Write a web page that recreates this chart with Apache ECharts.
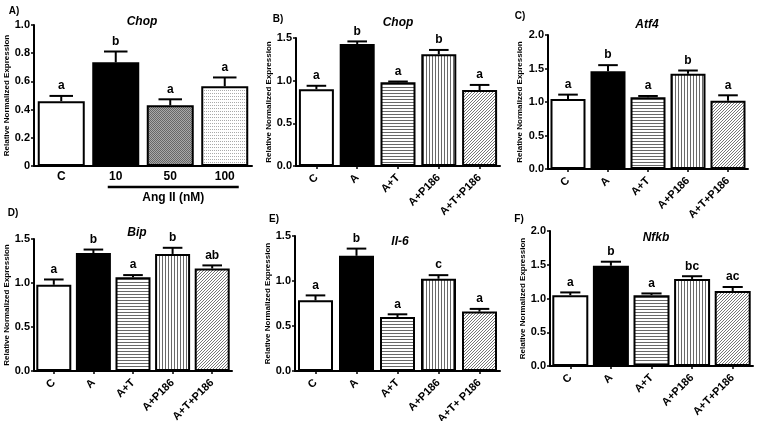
<!DOCTYPE html>
<html>
<head>
<meta charset="utf-8">
<script src="https://cdn.jsdelivr.net/npm/echarts@6/dist/echarts.min.js"></script>
<style>html,body{margin:0;padding:0;background:#fff}#c{width:757px;height:421px}</style>
</head>
<body>
<div id="c"></div>
<script>
// ---------- data ----------
const catsA = ['C', '10', '50', '100'];
const meanA = [0.46, 0.735, 0.43, 0.565];
const errA  = [0.497, 0.812, 0.473, 0.628];
const letA  = ['a', 'b', 'a', 'a'];

const cats5 = ['C', 'A', 'A+T', 'A+P186', 'A+T+P186'];
const catsE = ['C', 'A', 'A+T', 'A+P186', 'A+T+ P186'];

const meanB = [0.90, 1.43, 0.98, 1.31, 0.89];
const errB  = [0.94, 1.46, 0.99, 1.36, 0.95];
const letB  = ['a', 'b', 'a', 'b', 'a'];

const meanC = [1.045, 1.46, 1.07, 1.42, 1.02];
const errC  = [1.11, 1.55, 1.09, 1.47, 1.10];
const letC  = ['a', 'b', 'a', 'b', 'a'];

const meanD = [0.98, 1.34, 1.065, 1.33, 1.165];
const errD  = [1.04, 1.38, 1.09, 1.40, 1.20];
const letD  = ['a', 'b', 'a', 'b', 'ab'];

const meanE = [0.785, 1.28, 0.60, 1.025, 0.66];
const errE  = [0.84, 1.36, 0.63, 1.065, 0.69];
const letE  = ['a', 'b', 'a', 'c', 'a'];

const meanF = [1.05, 1.485, 1.05, 1.29, 1.11];
const errF  = [1.09, 1.545, 1.075, 1.33, 1.17];
const letF  = ['a', 'b', 'a', 'bc', 'ac'];

const titles = ['Chop', 'Chop', 'Atf4', 'Bip', 'Il-6', 'Nfkb'];
const panelTags = ['A)', 'B)', 'C)', 'D)', 'E)', 'F)'];
const yMax = [1.0, 1.5, 2.0, 1.5, 1.5, 2.0];
const yStep = [0.2, 0.5, 0.5, 0.5, 0.5, 0.5];
const yName = 'Relative Normalized Expression';
const angLabel = 'Ang II (nM)';

// ---------- patterns ----------
function pattern(kind) {
  const c = document.createElement('canvas');
  const ctx = c.getContext('2d');
  if (kind === 'h') {
    c.width = 3; c.height = 3;
    ctx.fillStyle = '#fff'; ctx.fillRect(0, 0, 3, 3);
    ctx.fillStyle = '#6a6a6a'; ctx.fillRect(0, 0, 3, 1);
  } else if (kind === 'v') {
    c.width = 3; c.height = 3;
    ctx.fillStyle = '#fff'; ctx.fillRect(0, 0, 3, 3);
    ctx.fillStyle = '#6a6a6a'; ctx.fillRect(0, 0, 1, 3);
  } else if (kind === 'd') {
    c.width = 3; c.height = 3;
    ctx.fillStyle = '#fff'; ctx.fillRect(0, 0, 3, 3);
    ctx.fillStyle = '#777';
    ctx.fillRect(0, 2, 1, 1); ctx.fillRect(1, 1, 1, 1); ctx.fillRect(2, 0, 1, 1);
  } else if (kind === 'dense') {
    c.width = 2; c.height = 2;
    ctx.fillStyle = '#a8a8a8'; ctx.fillRect(0, 0, 2, 2);
    ctx.fillStyle = '#666'; ctx.fillRect(0, 0, 1, 1); ctx.fillRect(1, 1, 1, 1);
  } else if (kind === 'dots') {
    c.width = 2; c.height = 3;
    ctx.fillStyle = '#fff'; ctx.fillRect(0, 0, 2, 3);
    ctx.fillStyle = '#aaa'; ctx.fillRect(0, 0, 1, 1);
  }
  return { image: c, repeat: 'repeat' };
}
const fillA = ['#fff', '#000', pattern('dense'), pattern('dots')];
const fill5 = ['#fff', '#000', pattern('h'), pattern('v'), pattern('d')];

// ---------- layout ----------
const FONT = 'Liberation Sans, Arial, Helvetica, sans-serif';
const grids = [
  { left: 34, width: 218, top: 25, height: 141 },
  { left: 296, width: 204, top: 38, height: 128 },
  { left: 548, width: 200, top: 35, height: 134 },
  { left: 34, width: 198, top: 239, height: 132 },
  { left: 295, width: 205, top: 236, height: 135 },
  { left: 550, width: 203, top: 231, height: 135 }
];
const titlePos = [[137, 17], [393, 18], [642, 20], [132, 228], [395, 237], [651, 233]];
const tagPos = [[9, 6], [273, 14], [515, 11], [8, 208], [269, 214], [514, 214]];
const nameGaps = [22, 20, 24, 22, 20, 20];
const barW = [47, 35, 35, 35, 35, 36];

const panels = [
  { cats: catsA, mean: meanA, err: errA, let: letA, fill: fillA },
  { cats: cats5, mean: meanB, err: errB, let: letB, fill: fill5 },
  { cats: cats5, mean: meanC, err: errC, let: letC, fill: fill5 },
  { cats: cats5, mean: meanD, err: errD, let: letD, fill: fill5 },
  { cats: catsE, mean: meanE, err: errE, let: letE, fill: fill5 },
  { cats: cats5, mean: meanF, err: errF, let: letF, fill: fill5 }
];

const option = {
  backgroundColor: '#fff',
  animation: false,
  title: [],
  grid: [],
  xAxis: [],
  yAxis: [],
  series: []
};

panels.forEach((p, i) => {
  option.grid.push(Object.assign({ containLabel: false, outerBoundsMode: 'none' }, grids[i]));
  option.title.push({
    text: titles[i], left: titlePos[i][0], top: titlePos[i][1],
    textAlign: 'center', textVerticalAlign: 'middle',
    textStyle: { fontFamily: FONT, fontSize: 12, fontWeight: 'bold', fontStyle: 'italic', color: '#000' }
  });
  option.title.push({
    text: panelTags[i], left: tagPos[i][0], top: tagPos[i][1],
    textAlign: 'center', textVerticalAlign: 'middle',
    textStyle: { fontFamily: FONT, fontSize: 10, fontWeight: 'bold', color: '#000' }
  });
  const isA = i === 0;
  option.xAxis.push({
    type: 'category', gridIndex: i, data: p.cats,
    axisLine: { lineStyle: { color: '#000', width: 2 } },
    axisTick: { show: !isA, alignWithLabel: true, length: 3, lineStyle: { color: '#000', width: 1.5 } },
    axisLabel: {
      rotate: isA ? 0 : 45, margin: isA ? 5 : 10, interval: 0,
      fontFamily: FONT, fontSize: isA ? 12 : 11, fontWeight: 'bold', color: '#000'
    },
    splitLine: { show: false }
  });
  option.yAxis.push({
    type: 'value', gridIndex: i, min: 0, max: yMax[i], interval: yStep[i],
    name: yName, nameLocation: 'middle', nameRotate: 90, nameGap: nameGaps[i],
    nameTextStyle: { fontFamily: FONT, fontSize: 8, fontWeight: 'bold', color: '#000' },
    axisLine: { show: true, lineStyle: { color: '#000', width: 2 } },
    axisTick: { show: true, length: 3, lineStyle: { color: '#000', width: 1.5 } },
    axisLabel: {
      margin: 4, fontFamily: FONT, fontSize: 11, fontWeight: 'bold', color: '#000',
      formatter: v => (isA && v === 0) ? '0' : v.toFixed(1)
    },
    splitLine: { show: false }
  });
  option.series.push({
    type: 'bar', xAxisIndex: i, yAxisIndex: i, barWidth: barW[i],
    data: p.mean.map((v, k) => ({
      value: v,
      itemStyle: { color: p.fill[k], borderColor: '#000', borderWidth: 2 }
    })),
    z: 2
  });
  const capW = barW[i] * (isA ? 0.5 : 0.56);
  const letters = p.let;
  option.series.push({
    type: 'custom', xAxisIndex: i, yAxisIndex: i, z: 3,
    data: p.mean.map((v, k) => [k, v, p.err[k]]),
    renderItem: (params, api) => {
      const x = api.value(0), m = api.value(1), e = api.value(2);
      const p0 = api.coord([x, m]);
      const p1 = api.coord([x, e]);
      return {
        type: 'group',
        children: [
          { type: 'line', shape: { x1: p0[0], y1: p0[1], x2: p1[0], y2: p1[1] }, style: { stroke: '#000', lineWidth: 2 } },
          { type: 'line', shape: { x1: p1[0] - capW / 2, y1: p1[1], x2: p1[0] + capW / 2, y2: p1[1] }, style: { stroke: '#000', lineWidth: 2 } },
          { type: 'text', style: { text: letters[params.dataIndex], x: p1[0], y: p1[1] - 4, align: 'center', verticalAlign: 'bottom',
            font: 'bold 12px ' + FONT, fill: '#000' } }
        ]
      };
    }
  });
});

const chart = echarts.init(document.getElementById('c'), null, { renderer: 'canvas' });
chart.setOption(option);

// Ang II bracket under the treated categories of panel A
const pStart = chart.convertToPixel({ xAxisIndex: 0, yAxisIndex: 0 }, [catsA[1], 0]);
const pEnd = chart.convertToPixel({ xAxisIndex: 0, yAxisIndex: 0 }, [catsA[3], 0]);
const lineY = pStart[1] + 21;
const x1 = pStart[0] - 8, x2 = pEnd[0] + 14;
chart.setOption({
  graphic: [
    { type: 'line', shape: { x1: x1, y1: lineY, x2: x2, y2: lineY },
      style: { stroke: '#000', lineWidth: 2.5 } },
    { type: 'text', x: (x1 + x2) / 2, y: lineY + 5,
      style: { text: angLabel, align: 'center', verticalAlign: 'top', font: 'bold 12px ' + FONT, fill: '#000' } }
  ]
});
</script>
</body>
</html>
